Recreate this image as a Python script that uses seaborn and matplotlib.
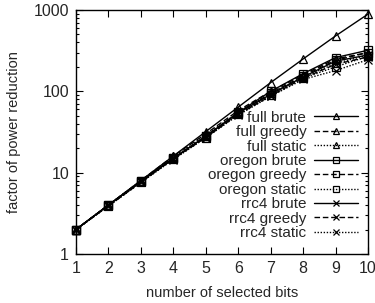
import numpy as np
import matplotlib
matplotlib.use('Agg')
import matplotlib.pyplot as plt
import seaborn as sns
from matplotlib.ticker import LogLocator, FixedLocator, NullFormatter

sns.set_style('ticks')
plt.rcParams['font.family'] = ['Liberation Sans', 'DejaVu Sans']

bits = [1, 2, 3, 4, 5, 6, 7, 8, 9, 10]

full_brute = [2, 4, 8, 16, 32, 64, 128, 250, 480, 890]
full_greedy = [2, 4, 8, 16, 30, 58, 100, 160, 250, 300]
full_static = [2, 4, 8, 15.5, 29, 55, 95, 150, 220, 280]
oregon_brute = [2, 4, 7.8, 15, 28, 55, 100, 165, 260, 320]
oregon_greedy = [2, 4, 7.8, 15, 28, 54, 95, 155, 240, 300]
oregon_static = [2, 3.9, 7.6, 14.8, 27, 52, 90, 145, 200, 270]
rrc4_brute = [2, 4, 7.8, 15, 28, 54, 92, 150, 235, 280]
rrc4_greedy = [2, 3.9, 7.6, 14.8, 27, 52, 88, 145, 215, 265]
rrc4_static = [2, 3.9, 7.6, 14.5, 27, 51, 87, 140, 180, 245]

series = [
    ('full brute', full_brute, '^', '-'),
    ('full greedy', full_greedy, '^', (0, (4, 2))),
    ('full static', full_static, '^', (0, (1, 1.2))),
    ('oregon brute', oregon_brute, 's', '-'),
    ('oregon greedy', oregon_greedy, 's', (0, (4, 2))),
    ('oregon static', oregon_static, 's', (0, (1, 1.2))),
    ('rrc4 brute', rrc4_brute, 'x', '-'),
    ('rrc4 greedy', rrc4_greedy, 'x', (0, (4, 2))),
    ('rrc4 static', rrc4_static, 'x', (0, (1, 1.2))),
]

fig = plt.figure(figsize=(3.75, 3.03), dpi=100)
ax = fig.add_axes([0.2027, 0.1617, 0.7786, 0.8053])

for label, vals, mk, ls in series:
    sns.lineplot(x=bits, y=vals, ax=ax, color='black', linestyle=ls, linewidth=1.0,
                 marker=mk, markersize=6, markerfacecolor='none',
                 markeredgecolor='black', markeredgewidth=0.9, label=label,
                 clip_on=False, zorder=3)

ax.set_yscale('log')
ax.set_xlim(1, 10)
ax.set_ylim(1, 1000)
ax.set_xticks(bits)
ax.yaxis.set_major_locator(FixedLocator([1, 10, 100, 1000]))
ax.set_yticklabels(['1', '10', '100', '1000'])
ax.yaxis.set_minor_locator(LogLocator(base=10, subs=np.arange(2, 10)))
ax.yaxis.set_minor_formatter(NullFormatter())

ax.tick_params(which='both', direction='in', top=True, right=True, labelsize=11.5,
               color='black', width=0.8, pad=5)
ax.tick_params(which='major', length=5)
ax.tick_params(which='minor', length=2.5)
for s in ax.spines.values():
    s.set_color('black')
    s.set_linewidth(1.0)

ax.set_xlabel('number of selected bits', fontsize=10.5, labelpad=7)
ax.set_ylabel('factor of power reduction', fontsize=10.5, labelpad=9)

leg = ax.legend(loc='center right', bbox_to_anchor=(0.993, 0.322), frameon=False,
                markerfirst=False, fontsize=11, handlelength=2.9, handletextpad=0.5,
                borderpad=0, labelspacing=0.03)
for h in leg.legend_handles:
    h.set_markersize(5)

fig.savefig('out.png', dpi=100)
